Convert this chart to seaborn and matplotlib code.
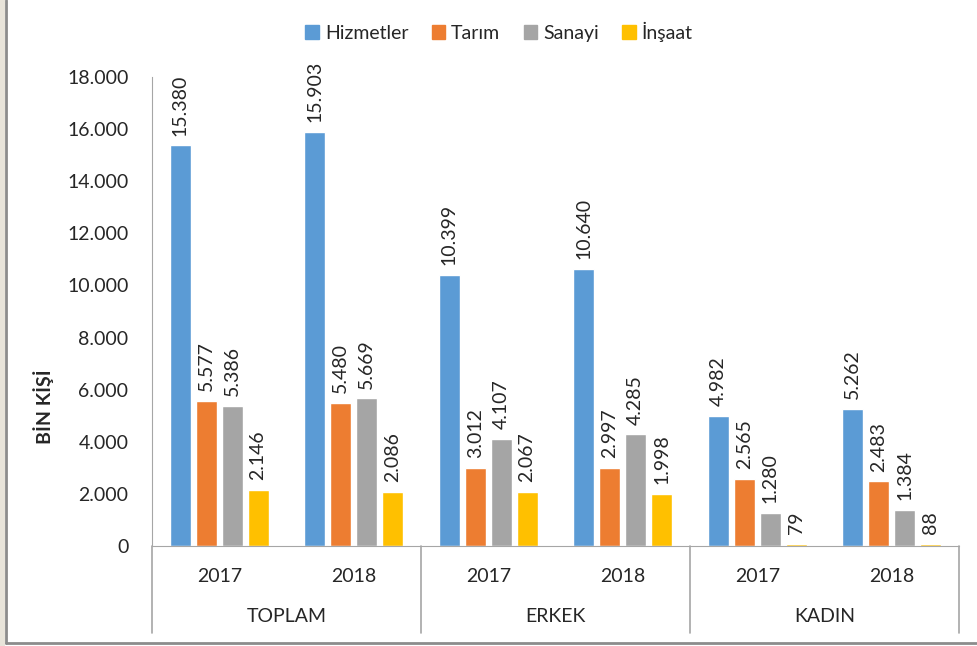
import matplotlib
matplotlib.use("Agg")
import matplotlib.pyplot as plt
import matplotlib.patches as mpatches
import matplotlib.transforms as mtransforms
import pandas as pd
import seaborn as sns

GROUPS = ["TOPLAM", "ERKEK", "KADIN"]
YEARS = ["2017", "2018"]
SECTORS = ["Hizmetler", "Tarım", "Sanayi", "İnşaat"]
COLORS = ["#5B9BD5", "#ED7D31", "#A5A5A5", "#FFC000"]

# order: TOPLAM 2017, TOPLAM 2018, ERKEK 2017, ERKEK 2018, KADIN 2017, KADIN 2018
hizmetler = [15380, 15903, 10399, 10640, 4982, 5262]
tarim = [5577, 5480, 3012, 2997, 2565, 2483]
sanayi = [5386, 5669, 4107, 4285, 1280, 1384]
insaat = [2146, 2086, 2067, 1998, 79, 88]


def build_frame():
    slots = [f"{g} {y}" for g in GROUPS for y in YEARS]
    rows = []
    for name, vals in zip(SECTORS, [hizmetler, tarim, sanayi, insaat]):
        for slot, v in zip(slots, vals):
            rows.append({"slot": slot, "sector": name, "value": v})
    return pd.DataFrame(rows), slots


def fmt(v: float) -> str:
    return f"{int(round(v)):,}".replace(",", ".")


def main() -> None:
    sns.set_style("white")
    plt.rcParams["font.family"] = ["Lato", "DejaVu Sans"]

    df, slots = build_frame()

    W, H = 978, 646
    fig = plt.figure(figsize=(9.78, 6.46), dpi=100, facecolor="white")
    # beige strip on the left and the chart border (left/bottom)
    fig.add_artist(mpatches.Rectangle((0, 0), 5 / W, 1, transform=fig.transFigure,
                                      facecolor="#E8E4DA", edgecolor="none", zorder=-5))
    fig.add_artist(plt.Line2D([6 / W, 6 / W], [3 / H, 1], transform=fig.transFigure,
                              color="#8C8C8C", lw=2))
    fig.add_artist(plt.Line2D([6 / W, 1], [3 / H, 3 / H], transform=fig.transFigure,
                              color="#8C8C8C", lw=2))

    ax = fig.add_axes([152 / W, 100 / H, (959 - 152) / W, (546 - 77) / H])
    ax.set_facecolor("none")
    ax.set_zorder(2)

    sns.barplot(data=df, x="slot", y="value", hue="sector", order=slots,
                hue_order=SECTORS, palette=COLORS, width=0.77, gap=0.19,
                saturation=1, ax=ax, legend=False)

    for cont in ax.containers:
        ax.bar_label(cont, labels=[fmt(b.get_height()) for b in cont],
                     rotation=90, padding=7, fontsize=14, color="#262626")

    ax.set_ylim(0, 18000)
    ax.set_xlim(-0.5, len(slots) - 0.5)
    ax.set_yticks(range(0, 18001, 2000))
    ax.set_yticklabels([fmt(t) for t in range(0, 18001, 2000)], fontsize=14, color="#262626")
    ax.tick_params(axis="y", length=0, pad=17)
    ax.set_xticks(range(len(slots)))
    ax.set_xticklabels(YEARS * len(GROUPS), fontsize=14, color="#262626")
    ax.tick_params(axis="x", length=0, pad=16)
    ax.set_xlabel("")
    ax.set_ylabel("BİN KİŞİ", fontsize=14, fontweight="bold", color="#262626")
    ax.yaxis.set_label_coords(-0.122, 0.296)

    for side in ["top", "right"]:
        ax.spines[side].set_visible(False)
    ax.spines["left"].set_color("#A6A6A6")
    ax.spines["bottom"].set_color("#A6A6A6")

    # group labels and separators under the axis
    trans = mtransforms.blended_transform_factory(ax.transData, ax.transAxes)
    sep_bottom = -87 / (546 - 77)
    for i in range(len(GROUPS) + 1):
        x = i * 2 - 0.5
        ax.plot([x, x], [0, sep_bottom], transform=trans, color="#A6A6A6",
                lw=1.2, clip_on=False)
    for i, g in enumerate(GROUPS):
        ax.text(i * 2 + 0.5, -70 / (546 - 77), g, transform=trans, ha="center",
                va="center", fontsize=14, color="#262626")

    handles = [mpatches.Patch(color=c, label=s) for s, c in zip(SECTORS, COLORS)]
    fig.legend(handles=handles, loc="center", bbox_to_anchor=(499 / W, 1 - 32 / H),
               ncol=4, frameon=False, fontsize=14, handlelength=0.7, handleheight=0.7,
               handletextpad=0.3, columnspacing=1.2, labelcolor="#262626")

    fig.savefig("out.png", dpi=100, facecolor=fig.get_facecolor())
    plt.close(fig)


if __name__ == "__main__":
    main()
